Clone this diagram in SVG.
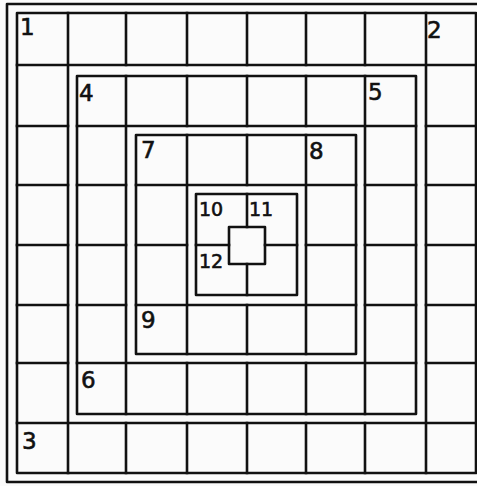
<svg xmlns="http://www.w3.org/2000/svg" width="477" height="486" viewBox="0 0 477 486">
<style>
.ln{fill:none;stroke:#111;stroke-width:2.6;stroke-linejoin:round;stroke-linecap:square}
.lb{font-family:"DejaVu Sans","Liberation Sans",sans-serif;font-size:23px;fill:#111;stroke:#111;stroke-width:0.6}
.sm{font-size:19px}
</style>
<rect width="477" height="486" fill="#fbfbfb"/>
<g id="connectors">
<rect class="ln" x="7" y="4" width="474" height="478"/>
</g>
<g id="ring1">
<rect class="ln" x="17" y="13" width="459" height="460"/>
<path class="ln" d="M17 65H476M17 423H476M68 13V473M426 13V473"/>
<path class="ln" d="M126 13V65M187 13V65M247 13V65M306 13V65M365 13V65M126 423V473M187 423V473M247 423V473M306 423V473M365 423V473"/>
<path class="ln" d="M17 126H68M17 185H68M17 245H68M17 305H68M17 363H68M426 126H476M426 185H476M426 245H476M426 305H476M426 363H476"/>
</g>
<g id="ring2">
<rect class="ln" x="77" y="76" width="339" height="338"/>
<path class="ln" d="M77 126H416M77 363H416M126 76V414M365 76V414"/>
<path class="ln" d="M187 76V126M247 76V126M306 76V126M187 363V414M247 363V414M306 363V414"/>
<path class="ln" d="M77 185H126M77 245H126M77 305H126M365 185H416M365 245H416M365 305H416"/>
</g>
<g id="ring3">
<rect class="ln" x="136" y="135" width="220" height="219"/>
<path class="ln" d="M136 185H356M136 305H356M187 135V354M306 135V354"/>
<path class="ln" d="M247 135V185M247 305V354M136 245H187M306 245H356"/>
</g>
<g id="ring4">
<rect class="ln" x="196" y="194" width="101" height="101"/>
<rect class="ln" x="229" y="227" width="36" height="37"/>
<path class="ln" d="M247 194V227M247 264V295M196 245H229M265 245H297"/>
</g>
<g id="labels">
<text class="lb" x="20" y="35">1</text>
<text class="lb" x="427" y="38">2</text>
<text class="lb" x="22" y="449">3</text>
<text class="lb" x="79" y="101">4</text>
<text class="lb" x="368" y="100">5</text>
<text class="lb" x="81" y="388">6</text>
<text class="lb" x="141" y="158">7</text>
<text class="lb" x="309" y="159">8</text>
<text class="lb" x="141" y="328">9</text>
<text class="lb sm" x="199" y="216">10</text>
<text class="lb sm" x="249" y="216">11</text>
<text class="lb sm" x="199" y="268">12</text>
</g>
</svg>
